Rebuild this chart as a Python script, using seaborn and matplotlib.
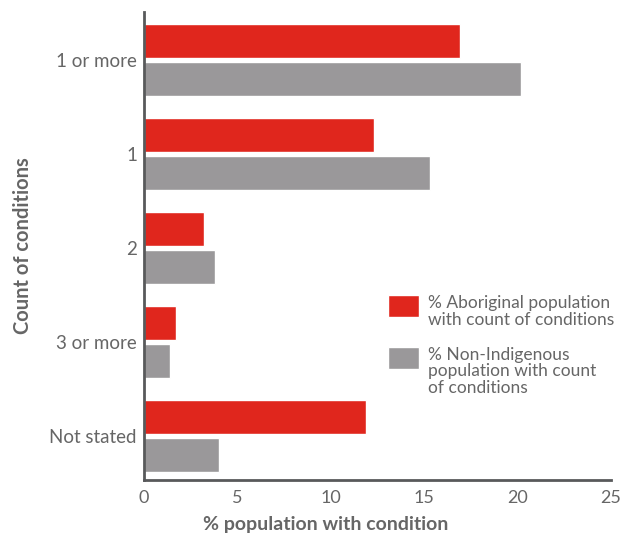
import matplotlib
matplotlib.use("Agg")
import matplotlib.pyplot as plt
import pandas as pd
import seaborn as sns

# Datos
categories = ["1 or more", "1", "2", "3 or more", "Not stated"]
aboriginal = [16.9, 12.3, 3.2, 1.7, 11.9]
non_indigenous = [20.2, 15.3, 3.8, 1.4, 4.0]
series_names = ["% Aboriginal population\nwith count of conditions",
                "% Non-Indigenous\npopulation with count\nof conditions"]
x_ticks = [0, 5, 10, 15, 20, 25]

df = pd.DataFrame({
    "cat": categories * 2,
    "value": aboriginal + non_indigenous,
    "series": [series_names[0]] * len(categories) + [series_names[1]] * len(categories),
})

sns.set_style("white")
plt.rcParams["font.family"] = ["Lato", "DejaVu Sans"]
text_col = "#666666"
spine_col = "#58595b"

fig = plt.figure(figsize=(6.34, 5.36), dpi=100)
ax = fig.add_axes([0.227, 0.1045, 0.7367, 0.873])

sns.barplot(data=df, x="value", y="cat", hue="series",
            palette=["#e0261d", "#9a989a"], width=0.8, gap=0.1,
            saturation=1, ax=ax, orient="h")

ax.set_xlim(0, 25)
ax.set_ylim(4.47, -0.51)
ax.set_xticks(x_ticks)
ax.tick_params(axis="x", direction="in", length=10, width=2, color=spine_col,
               labelsize=13, labelcolor=text_col, pad=7)
ax.tick_params(axis="y", length=0, labelsize=13.5, labelcolor=text_col, pad=5)

for s in ["top", "right"]:
    ax.spines[s].set_visible(False)
for s in ["left", "bottom"]:
    ax.spines[s].set_color(spine_col)
    ax.spines[s].set_linewidth(2)

ax.set_xlabel("% population with condition", fontsize=14, fontweight="bold",
              color=text_col)
ax.xaxis.set_label_coords(0.39, -0.078)
ax.set_ylabel("Count of conditions", fontsize=14.5, fontweight="bold",
              color=text_col, labelpad=12)

leg = ax.legend(loc="upper left", bbox_to_anchor=(0.507, 0.41), frameon=False,
                fontsize=12.5, handlelength=1.8, handleheight=1.55,
                handletextpad=0.5, labelspacing=1.1, borderaxespad=0)
for t in leg.get_texts():
    t.set_color(text_col)
    t.set_linespacing(1.05)
# cuadros de color alineados arriba, como en el original
for col in leg._legend_handle_box.get_children():
    for item in col.get_children():
        item.align = "top"

plt.savefig("out.png", dpi=100)
